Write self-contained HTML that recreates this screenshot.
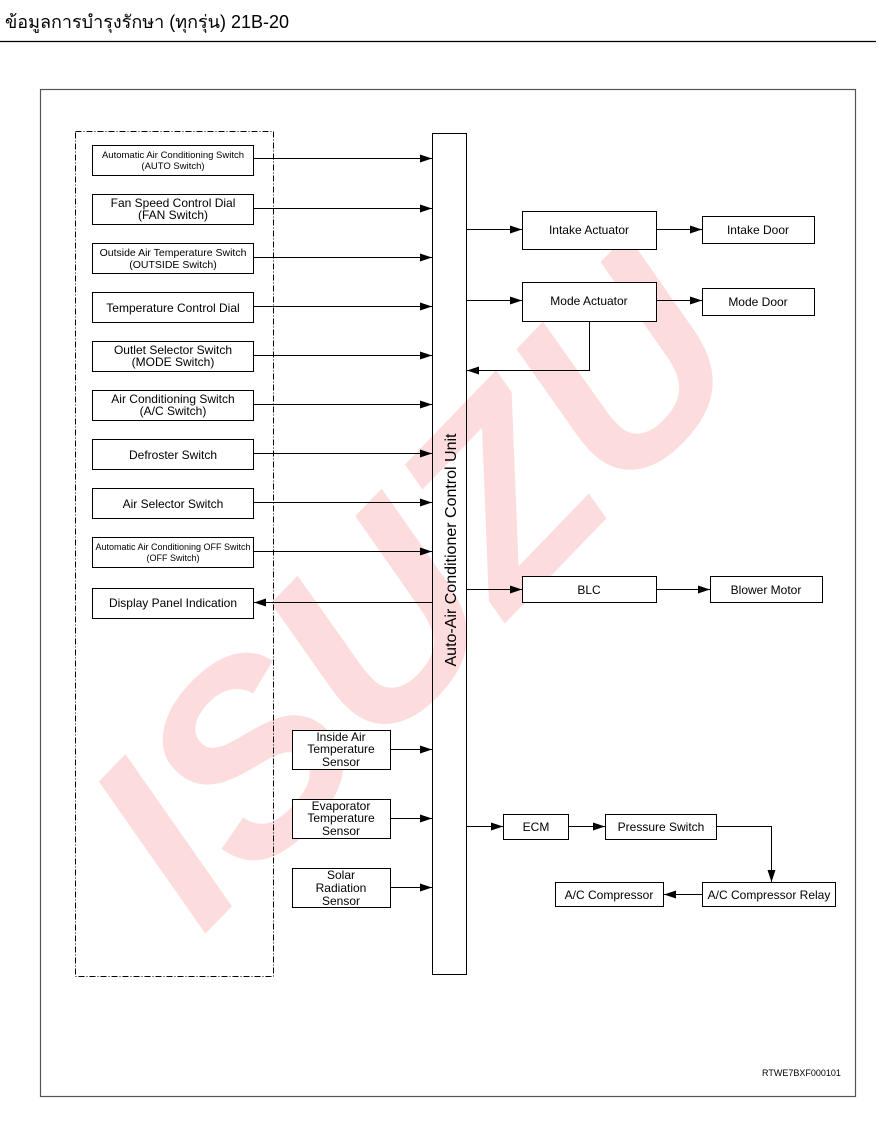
<!DOCTYPE html>
<html><head><meta charset="utf-8"><style>
body{margin:0;background:#fff;}
svg text{font-family:"Liberation Sans",sans-serif;fill:#000;}
</style></head><body>
<svg width="895" height="1124" xmlns="http://www.w3.org/2000/svg">
<defs><marker id="a" markerWidth="12" markerHeight="8" refX="12" refY="4" orient="auto" markerUnits="userSpaceOnUse"><path d="M0,0 L12,4 L0,8 Z" fill="#000"/></marker></defs>
<text x="5" y="28" style="font-family:'Liberation Sans','Noto Sans CJK SC',sans-serif" font-size="18">ข้อมูลการบำรุงรักษา (ทุกรุ่น) 21B-20</text>
<line x1="0" y1="41.5" x2="876" y2="41.5" stroke="#000" stroke-width="1.2"/>
<text x="410" y="680" font-size="265" font-weight="bold" font-style="italic" text-anchor="middle" transform="rotate(-46 410 585)" style="fill:#fcdcdc">ISUZU</text>
<rect x="40.5" y="89.5" width="815" height="1007" fill="none" stroke="#555" stroke-width="1.2"/>
<rect x="75.5" y="131.5" width="198" height="845" fill="none" stroke="#000" stroke-dasharray="6,2,1,2"/>
<rect x="432.5" y="133.5" width="34" height="841" fill="none" stroke="#000"/>
<text transform="translate(456 550) rotate(-90)" font-size="16" text-anchor="middle">Auto-Air Conditioner Control Unit</text>
<g stroke="#000" fill="#fff">
<rect x="92.5" y="145.5" width="161" height="30"/>
<rect x="92.5" y="194.5" width="161" height="30"/>
<rect x="92.5" y="243.5" width="161" height="30"/>
<rect x="92.5" y="292.5" width="161" height="30"/>
<rect x="92.5" y="341.5" width="161" height="30"/>
<rect x="92.5" y="390.5" width="161" height="30"/>
<rect x="92.5" y="439.5" width="161" height="30"/>
<rect x="92.5" y="488.5" width="161" height="30"/>
<rect x="92.5" y="537.5" width="161" height="30"/>
<rect x="92.5" y="588.5" width="161" height="30"/>
<rect x="522.5" y="211.5" width="134" height="38"/>
<rect x="702.5" y="216.5" width="112" height="27"/>
<rect x="522.5" y="282.5" width="134" height="39"/>
<rect x="702.5" y="288.5" width="112" height="27"/>
<rect x="522.5" y="576.5" width="134" height="26"/>
<rect x="710.5" y="576.5" width="112" height="26"/>
<rect x="292.5" y="730.5" width="98" height="39"/>
<rect x="292.5" y="799.5" width="98" height="39"/>
<rect x="292.5" y="868.5" width="98" height="39"/>
<rect x="503.5" y="814.5" width="65" height="25"/>
<rect x="605.5" y="814.5" width="111" height="25"/>
<rect x="702.5" y="882.5" width="133" height="24"/>
<rect x="555.5" y="882.5" width="108" height="24"/>
</g>
<g stroke="#000" stroke-width="1" marker-end="url(#a)">
<line x1="254" y1="158.5" x2="432" y2="158.5"/>
<line x1="254" y1="208.5" x2="432" y2="208.5"/>
<line x1="254" y1="257.5" x2="432" y2="257.5"/>
<line x1="254" y1="306.5" x2="432" y2="306.5"/>
<line x1="254" y1="355.5" x2="432" y2="355.5"/>
<line x1="254" y1="404.5" x2="432" y2="404.5"/>
<line x1="254" y1="453.5" x2="432" y2="453.5"/>
<line x1="254" y1="502.5" x2="432" y2="502.5"/>
<line x1="254" y1="551.5" x2="432" y2="551.5"/>
<line x1="432" y1="602.5" x2="254" y2="602.5"/>
<line x1="467" y1="229.5" x2="522" y2="229.5"/>
<line x1="657" y1="229.5" x2="702" y2="229.5"/>
<line x1="467" y1="300.5" x2="522" y2="300.5"/>
<line x1="657" y1="300.5" x2="702" y2="300.5"/>
<polyline fill="none" points="589.5,322 589.5,370.5 467,370.5"/>
<line x1="467" y1="589.5" x2="522" y2="589.5"/>
<line x1="657" y1="589.5" x2="710" y2="589.5"/>
<line x1="391" y1="749.5" x2="432" y2="749.5"/>
<line x1="391" y1="818.5" x2="432" y2="818.5"/>
<line x1="391" y1="887.5" x2="432" y2="887.5"/>
<line x1="467" y1="826.5" x2="503" y2="826.5"/>
<line x1="569" y1="826.5" x2="605" y2="826.5"/>
<polyline fill="none" points="717,826.5 771.5,826.5 771.5,882"/>
<line x1="702" y1="894.5" x2="664" y2="894.5"/>
</g>
<g text-anchor="middle">
<text x="173" y="158" font-size="9.5">Automatic Air Conditioning Switch</text>
<text x="173" y="169" font-size="9.5">(AUTO Switch)</text>
<text x="173" y="207" font-size="12">Fan Speed Control Dial</text>
<text x="173" y="219" font-size="12">(FAN Switch)</text>
<text x="173" y="256" font-size="10.5">Outside Air Temperature Switch</text>
<text x="173" y="268" font-size="10.5">(OUTSIDE Switch)</text>
<text x="173" y="312" font-size="12">Temperature Control Dial</text>
<text x="173" y="354" font-size="12">Outlet Selector Switch</text>
<text x="173" y="366" font-size="12">(MODE Switch)</text>
<text x="173" y="403" font-size="12">Air Conditioning Switch</text>
<text x="173" y="415" font-size="12">(A/C Switch)</text>
<text x="173" y="459" font-size="12">Defroster Switch</text>
<text x="173" y="508" font-size="12">Air Selector Switch</text>
<text x="173" y="550" font-size="9">Automatic Air Conditioning OFF Switch</text>
<text x="173" y="561" font-size="9">(OFF Switch)</text>
<text x="173" y="607" font-size="12">Display Panel Indication</text>
<text x="589" y="234" font-size="12">Intake Actuator</text>
<text x="758" y="234" font-size="12">Intake Door</text>
<text x="589" y="305" font-size="12">Mode Actuator</text>
<text x="758" y="306" font-size="12">Mode Door</text>
<text x="589" y="594" font-size="12">BLC</text>
<text x="766" y="594" font-size="12">Blower Motor</text>
<text x="341" y="741" font-size="12">Inside Air</text>
<text x="341" y="753" font-size="12">Temperature</text>
<text x="341" y="766" font-size="12">Sensor</text>
<text x="341" y="810" font-size="12">Evaporator</text>
<text x="341" y="822" font-size="12">Temperature</text>
<text x="341" y="835" font-size="12">Sensor</text>
<text x="341" y="879" font-size="12">Solar</text>
<text x="341" y="892" font-size="12">Radiation</text>
<text x="341" y="905" font-size="12">Sensor</text>
<text x="536" y="831" font-size="12">ECM</text>
<text x="661" y="831" font-size="12">Pressure Switch</text>
<text x="769" y="899" font-size="12">A/C Compressor Relay</text>
<text x="609" y="899" font-size="12">A/C Compressor</text>
</g>
<text x="762" y="1076" font-size="9">RTWE7BXF000101</text>
</svg>
</body></html>
